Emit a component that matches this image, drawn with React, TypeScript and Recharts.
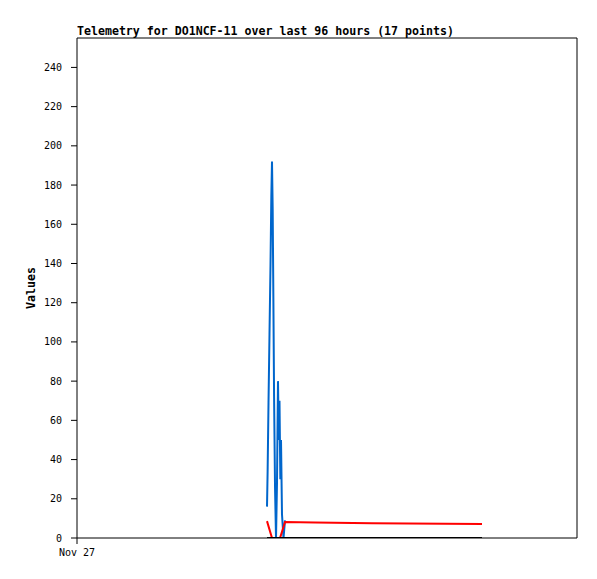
import React from 'react';
import { LineChart, Line, XAxis, YAxis, ReferenceLine } from 'recharts';

// hours since Nov 27 00:00 (x axis spans 96 hours)
const blueHours = [
  36.48, 36.6, 36.77, 36.96, 37.15, 37.31, 37.44, 37.57, 37.71, 37.84, 38.02,
  38.21, 38.4, 38.59, 38.75, 38.88, 39.04, 39.17, 39.36, 39.65, 39.94,
];
const blueValues = [
  16, 34, 69, 104, 139, 174, 192, 168, 120, 72, 26, 0, 28, 80, 50, 70, 30, 50, 12, 0, 9,
];

const redHours = [36.48, 37.44, 38.98, 39.94, 45.7, 56.64, 77.76];
const redValues = [8.6, 0, 0, 8.2, 7.9, 7.5, 7.2];

const blackHours = [36.48, 77.76];
const blackValues = [0, 0];

const yTicks = [0, 20, 40, 60, 80, 100, 120, 140, 160, 180, 200, 220, 240];

const toRows = (hours: number[], values: number[]) =>
  hours.map((h, i) => ({ h, v: values[i] }));

const blueData = toRows(blueHours, blueValues);
const redData = toRows(redHours, redValues);
const blackData = toRows(blackHours, blackValues);

const mono = '"DejaVu Sans Mono", monospace';

const App: React.FC = () => {
  return (
    <div style={{ position: 'absolute', left: 0, top: 0, width: 597, height: 579, background: '#fff' }}>
      <div
        style={{
          position: 'absolute',
          left: 77,
          top: 24,
          fontFamily: mono,
          fontWeight: 'bold',
          fontSize: 11.6,
          color: '#000',
          whiteSpace: 'nowrap',
          lineHeight: '14px',
        }}
      >
        Telemetry for DO1NCF-11 over last 96 hours (17 points)
      </div>
      <div
        style={{
          position: 'absolute',
          left: 31,
          top: 288,
          transform: 'translate(-50%, -50%) rotate(-90deg)',
          fontFamily: mono,
          fontWeight: 'bold',
          fontSize: 11.6,
          color: '#000',
          whiteSpace: 'nowrap',
        }}
      >
        Values
      </div>
      <LineChart width={597} height={579} margin={{ top: 38, right: 20, bottom: 11, left: 27 }}>
        <XAxis
          xAxisId="b"
          dataKey="h"
          type="number"
          domain={[0, 96]}
          ticks={[0]}
          tickFormatter={() => 'Nov 27'}
          height={30}
          tickSize={6}
          tickMargin={5}
          axisLine={{ stroke: '#000' }}
          tickLine={{ stroke: '#000' }}
          tick={{ fill: '#000', fontSize: 10, fontFamily: mono }}
          allowDataOverflow
        />
        <YAxis
          yAxisId="l"
          type="number"
          domain={[0, 255]}
          ticks={yTicks}
          width={50}
          tickSize={6}
          tickMargin={9}
          axisLine={{ stroke: '#000' }}
          tickLine={{ stroke: '#000' }}
          tick={{ fill: '#000', fontSize: 10, fontFamily: mono }}
          allowDataOverflow
        />
        <ReferenceLine xAxisId="b" yAxisId="l" y={255} stroke="#000" />
        <ReferenceLine xAxisId="b" yAxisId="l" x={96} stroke="#000" />
        <Line xAxisId="b" yAxisId="l" data={blueData} dataKey="v" type="linear" stroke="#0066cc" strokeWidth={2} dot={false} isAnimationActive={false} />
        <Line xAxisId="b" yAxisId="l" data={redData} dataKey="v" type="linear" stroke="#ff0000" strokeWidth={2} dot={false} isAnimationActive={false} />
        <Line xAxisId="b" yAxisId="l" data={blackData} dataKey="v" type="linear" stroke="#000000" strokeWidth={2} dot={false} isAnimationActive={false} />
      </LineChart>
    </div>
  );
};

export default App;
